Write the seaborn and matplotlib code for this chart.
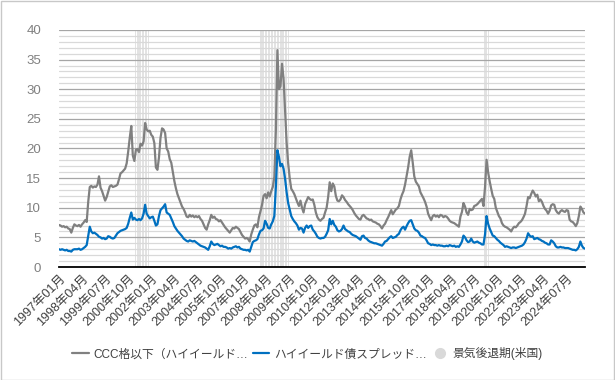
import numpy as np
import pandas as pd
import matplotlib
matplotlib.use("Agg")
import matplotlib.pyplot as plt
from matplotlib.lines import Line2D
from matplotlib.patches import Rectangle
from matplotlib.ticker import MultipleLocator
import seaborn as sns

# ---------------- data (monthly, 1997-01 .. 2025-07) ----------------
start_month = "1997-01"

ccc_spread = [
    7.1, 7.0, 6.8, 6.9, 6.7, 6.8, 6.5, 6.4, 5.8, 6.6, 7.2, 7.0,          # 1997
    6.9, 7.1, 6.8, 7.2, 7.5, 7.9, 7.6, 11.0, 13.5, 13.7, 13.4, 13.6,     # 1998
    13.5, 13.9, 15.3, 13.4, 12.8, 12.0, 11.2, 11.8, 12.7, 13.6, 13.8, 13.5,  # 1999
    13.6, 13.7, 13.9, 14.8, 15.8, 16.0, 16.3, 16.6, 17.5, 19.5, 21.8, 23.8,  # 2000
    18.8, 17.9, 19.8, 19.9, 19.4, 20.8, 20.5, 21.2, 24.3, 23.2, 22.9, 23.0,  # 2001
    22.3, 22.0, 20.9, 16.8, 16.4, 18.5, 21.8, 23.4, 23.2, 22.6, 20.0, 19.5,  # 2002
    18.2, 17.6, 16.0, 14.5, 13.3, 12.3, 11.6, 10.9, 10.2, 9.8, 9.2, 8.5,     # 2003
    8.4, 8.8, 8.5, 8.7, 8.4, 8.6, 8.4, 8.6, 8.1, 7.8, 7.2, 6.6,              # 2004
    6.3, 7.2, 7.9, 8.8, 8.3, 8.5, 8.1, 8.0, 7.7, 7.9, 7.5, 7.1,              # 2005
    6.7, 6.4, 6.1, 5.8, 6.2, 6.6, 6.5, 6.8, 6.6, 6.4, 5.9, 5.4,              # 2006
    5.1, 4.8, 4.9, 4.7, 4.3, 5.5, 6.3, 7.0, 7.2, 6.7, 8.4, 9.4,              # 2007
    10.5, 12.0, 12.3, 11.6, 12.6, 11.9, 12.8, 13.5, 15.2, 23.0, 36.6, 30.0,  # 2008
    30.5, 34.3, 31.8, 26.5, 21.0, 17.5, 15.0, 13.2, 12.8, 12.3, 11.6, 10.9,  # 2009
    10.3, 11.2, 10.0, 9.2, 10.6, 11.2, 11.8, 11.5, 11.3, 11.4, 10.5, 9.2,    # 2010
    8.4, 8.0, 7.8, 8.1, 8.3, 9.2, 10.0, 11.8, 14.3, 12.8, 14.1, 13.6,        # 2011
    12.0, 11.2, 11.1, 11.4, 12.1, 11.8, 11.3, 11.0, 10.6, 10.3, 10.0, 9.6,   # 2012
    9.1, 8.7, 8.4, 8.1, 8.0, 8.6, 8.8, 8.5, 8.2, 8.1, 7.9, 8.0,              # 2013
    7.7, 7.6, 7.5, 7.3, 7.2, 6.9, 6.5, 7.0, 7.3, 7.9, 8.4, 9.0,              # 2014
    9.6, 8.9, 9.3, 9.7, 9.9, 10.3, 11.4, 12.2, 12.8, 13.9, 15.3, 16.8,       # 2015
    18.6, 19.7, 17.6, 15.3, 14.4, 14.0, 13.6, 12.6, 12.1, 11.6, 11.0, 10.2,  # 2016
    9.0, 8.4, 7.9, 8.6, 8.8, 8.5, 8.7, 8.4, 8.8, 8.7, 8.4, 8.6,              # 2017
    8.5, 8.2, 7.8, 7.6, 7.5, 7.4, 7.2, 7.0, 6.8, 8.5, 9.3, 10.8,             # 2018
    10.2, 9.2, 8.8, 9.8, 9.6, 9.7, 10.3, 10.4, 10.6, 10.9, 11.2, 11.5,       # 2019
    10.3, 13.5, 18.1, 16.0, 14.5, 13.2, 12.0, 11.5, 10.0, 9.3, 8.6, 8.2,     # 2020
    7.4, 7.0, 6.8, 6.7, 6.5, 6.3, 6.0, 6.5, 6.8, 6.7, 7.0, 7.4,              # 2021
    7.6, 7.9, 8.4, 9.0, 10.3, 11.8, 11.6, 12.3, 12.9, 12.5, 11.9, 12.2,      # 2022
    11.1, 11.4, 11.0, 10.3, 9.8, 9.5, 9.0, 9.5, 10.4, 10.6, 10.5, 9.6,       # 2023
    9.2, 9.0, 9.4, 9.6, 9.4, 9.3, 9.6, 9.5, 8.0, 7.7, 7.6, 7.3,              # 2024
    6.9, 7.4, 8.6, 10.2, 9.8, 9.2, 9.0,                                      # 2025
]

hy_spread = [
    3.0, 2.9, 3.0, 2.9, 2.8, 2.9, 2.7, 2.7, 2.6, 2.9, 3.0, 3.0,          # 1997
    3.0, 3.1, 2.9, 3.0, 3.2, 3.4, 3.7, 5.3, 6.8, 6.0, 5.7, 5.8,          # 1998
    5.6, 5.4, 5.1, 5.0, 4.8, 4.9, 4.7, 4.8, 5.2, 5.1, 4.9, 4.8,          # 1999
    4.9, 5.3, 5.7, 5.9, 6.1, 6.2, 6.3, 6.4, 6.6, 7.3, 8.3, 9.2,          # 2000
    8.0, 8.3, 8.0, 7.9, 8.1, 7.9, 8.2, 9.0, 10.5, 9.0, 8.6, 8.2,         # 2001
    8.4, 8.5, 7.8, 7.0, 7.2, 8.6, 9.6, 9.9, 10.2, 10.6, 9.2, 9.0,        # 2002
    8.8, 8.2, 7.6, 6.9, 6.5, 6.1, 5.8, 5.5, 5.2, 4.8, 4.6, 4.4,          # 2003
    4.3, 4.5, 4.4, 4.3, 4.4, 4.2, 4.0, 3.8, 3.6, 3.5, 3.4, 3.3,          # 2004
    3.1, 2.9, 3.5, 4.3, 3.9, 3.7, 3.8, 3.9, 3.7, 3.5, 3.6, 3.4,          # 2005
    3.4, 3.3, 3.1, 3.2, 3.1, 3.3, 3.4, 3.5, 3.3, 3.4, 3.1, 3.0,          # 2006
    2.9, 2.9, 2.8, 2.9, 2.6, 3.4, 4.2, 4.4, 4.5, 4.7, 5.5, 6.1,          # 2007
    6.2, 6.5, 7.8, 7.3, 6.6, 6.5, 7.2, 7.7, 8.6, 13.5, 19.7, 18.6,       # 2008
    17.0, 17.4, 16.6, 14.9, 12.6, 10.8, 9.7, 8.6, 8.1, 7.7, 7.4, 7.0,    # 2009
    6.3, 6.6, 6.5, 5.8, 6.6, 7.0, 6.6, 6.9, 7.0, 6.3, 6.0, 5.6,          # 2010
    5.1, 4.9, 4.8, 4.9, 4.9, 5.1, 5.6, 6.2, 8.1, 7.2, 7.8, 7.1,          # 2011
    6.8, 6.2, 6.0, 6.1, 6.4, 7.0, 6.4, 6.2, 6.0, 5.9, 5.6, 5.4,          # 2012
    5.3, 5.2, 5.0, 4.8, 4.6, 5.2, 5.3, 4.9, 4.8, 4.5, 4.3, 4.2,          # 2013
    4.1, 4.0, 4.0, 3.9, 3.8, 3.7, 3.6, 3.9, 4.3, 4.4, 4.7, 5.0,          # 2014
    5.2, 4.9, 5.0, 5.1, 5.4, 5.6, 6.2, 6.6, 6.8, 6.3, 6.9, 7.4,          # 2015
    7.8, 7.9, 7.2, 6.5, 6.2, 6.1, 5.8, 5.3, 5.2, 5.0, 4.9, 4.5,          # 2016
    4.0, 3.9, 3.7, 3.8, 3.7, 3.7, 3.6, 3.7, 3.6, 3.6, 3.5, 3.5,          # 2017
    3.6, 3.5, 3.7, 3.6, 3.5, 3.6, 3.4, 3.5, 3.4, 3.8, 4.3, 5.3,          # 2018
    5.0, 4.5, 4.2, 4.3, 4.8, 4.3, 4.1, 4.2, 4.3, 4.1, 4.0, 3.8,          # 2019
    3.8, 5.5, 8.6, 7.3, 6.5, 5.9, 5.3, 5.2, 4.9, 4.6, 4.4, 4.1,          # 2020
    3.9, 3.7, 3.4, 3.5, 3.4, 3.3, 3.2, 3.3, 3.3, 3.2, 3.3, 3.4,          # 2021
    3.5, 3.6, 3.8, 4.2, 4.8, 5.7, 5.3, 5.1, 5.2, 4.7, 4.8, 4.9,          # 2022
    4.7, 4.6, 4.4, 4.3, 4.1, 4.0, 3.8, 3.8, 4.5, 4.3, 4.0, 3.5,          # 2023
    3.3, 3.3, 3.4, 3.3, 3.3, 3.2, 3.2, 3.2, 3.1, 3.0, 2.9, 2.9,          # 2024
    2.8, 3.0, 3.4, 4.3, 3.6, 3.2, 3.1,                                   # 2025
]

recession_start = ["2001-03", "2007-12", "2020-02"]
recession_end = ["2001-11", "2009-06", "2020-04"]
recession_level = 40

series_names = ["CCC格以下（ハイイールド…", "ハイイールド債スプレッド…", "景気後退期(米国)"]
tick_step = 15

# ---------------- build frame ----------------
months = pd.period_range(start_month, periods=len(ccc_spread), freq="M")
idx = np.arange(len(months))
df = pd.DataFrame({"idx": idx, "ccc": ccc_spread, "hy": hy_spread})
rec = np.zeros(len(months))
for s, e in zip(recession_start, recession_end):
    mask = (months >= pd.Period(s, "M")) & (months <= pd.Period(e, "M"))
    rec[mask] = recession_level
tick_pos = idx[::tick_step]
tick_lab = [f"{p.year}年{p.month:02d}月" for p in months[::tick_step]]

# ---------------- draw ----------------
sns.set_theme(style="white")
plt.rcParams["font.family"] = ["Liberation Sans", "Noto Sans CJK JP", "DejaVu Sans"]

W, H = 615, 380
fig = plt.figure(figsize=(W / 100, H / 100), dpi=100)
fig.patch.set_facecolor("white")
ax = fig.add_axes([59 / W, 1 - 267 / H, (585 - 59) / W, (267 - 30) / H])

ax.bar(idx[rec > 0], rec[rec > 0], width=0.7, color="#e3e3e3", linewidth=0, zorder=0.3)
sns.lineplot(data=df, x="idx", y="ccc", color="#808080", linewidth=1.6, ax=ax, zorder=3)
sns.lineplot(data=df, x="idx", y="hy", color="#0070c0", linewidth=1.6, ax=ax, zorder=4)

ax.set_xlim(0, len(idx) - 1)
ax.set_ylim(0, 40)
ax.yaxis.set_major_locator(MultipleLocator(5))
ax.yaxis.set_minor_locator(MultipleLocator(1))
ax.set_axisbelow(True)
ax.grid(which="major", axis="y", color="#a6a6a6", linewidth=0.9)
ax.grid(which="minor", axis="y", color="#d9d9d9", linewidth=0.9)
ax.grid(which="major", axis="x", visible=False)
for side in ["left", "right", "top"]:
    ax.spines[side].set_visible(False)
ax.spines["bottom"].set_color("#000000")
ax.spines["bottom"].set_linewidth(1.3)
ax.spines["bottom"].set_zorder(5)

ax.set_xticks(tick_pos)
ax.set_xticklabels(tick_lab, rotation=45, ha="right", rotation_mode="anchor")
ax.tick_params(axis="x", length=0, pad=4, labelsize=9, labelcolor="#404040")
ax.tick_params(axis="y", which="both", length=0, pad=13, labelsize=9.5, labelcolor="#808080")
ax.set_xlabel("")
ax.set_ylabel("")

handles = [
    Line2D([], [], color="#808080", linewidth=1.6),
    Line2D([], [], color="#0070c0", linewidth=1.6),
    Line2D([], [], color="#d9d9d9", marker="o", markersize=7, linestyle="none"),
]
fig.legend(handles, series_names, loc="center", bbox_to_anchor=(0.5, 1 - 354 / H),
           ncol=3, frameon=False, fontsize=8.5, handlelength=1.4,
           handletextpad=0.4, columnspacing=0.4, labelcolor="#404040")

fig.patches.append(Rectangle((0.5 / W, 0.5 / H), 1 - 1.5 / W, 1 - 1.5 / H,
                             transform=fig.transFigure, fill=False,
                             edgecolor="#c8c8c8", linewidth=1))

fig.savefig("out.png", dpi=100)
